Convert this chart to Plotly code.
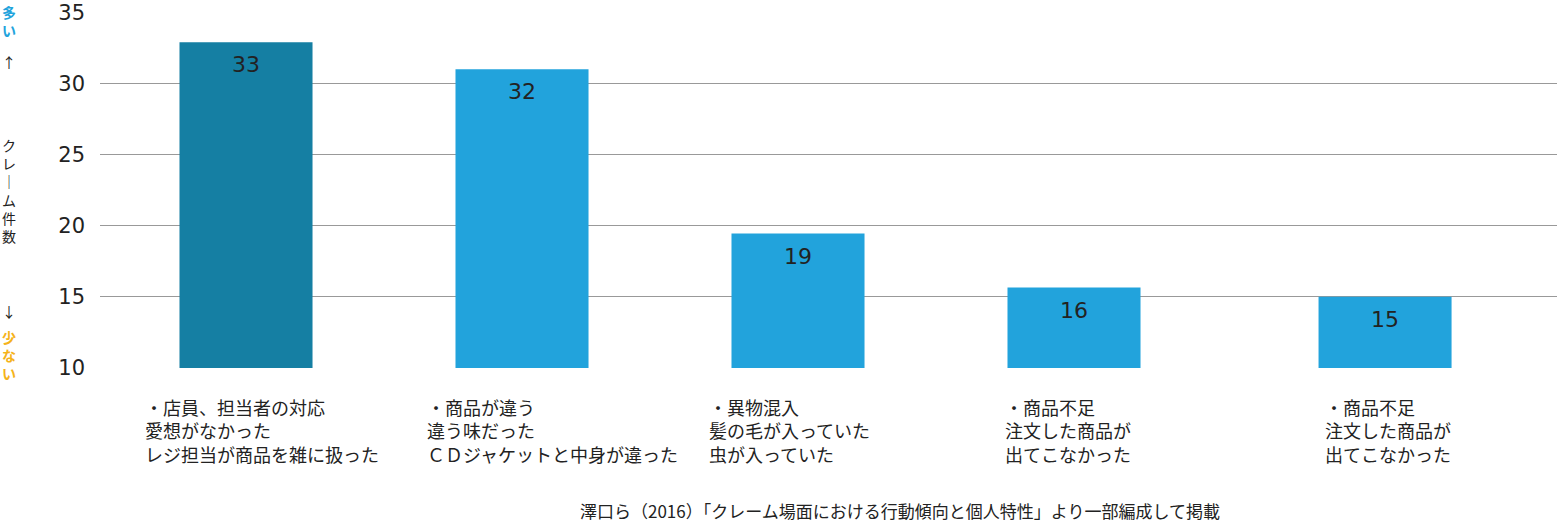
import plotly.graph_objects as go

# ---- data ----
categories = ["店員の対応", "商品が違う", "異物混入", "商品不足A", "商品不足B"]
bar_values = [32.9, 31.0, 19.45, 15.65, 15.0]
bar_labels = ["33", "32", "19", "16", "15"]
category_lines = [
    ["・店員、担当者の対応", "愛想がなかった", "レジ担当が商品を雑に扱った"],
    ["・商品が違う", "違う味だった", "ＣＤジャケットと中身が違った"],
    ["・異物混入", "髪の毛が入っていた", "虫が入っていた"],
    ["・商品不足", "注文した商品が", "出てこなかった"],
    ["・商品不足", "注文した商品が", "出てこなかった"],
]
bar_colors = ["#157fa3", "#22a3dc", "#22a3dc", "#22a3dc", "#22a3dc"]
y_ticks = [10, 15, 20, 25, 30, 35]
axis_top_text = "多い"
axis_mid_text = "クレ｜ム件数"
axis_bottom_text = "少ない"
source_text = "澤口ら（2016）「クレーム場面における行動傾向と個人特性」より一部編成して掲載"

# ---- layout helpers (positions, not data) ----
slot_pos = [0, 1, 2, 3, 4.127]
label_shift = [-103, -97, -91, -71, -62]

JP = "Noto Sans CJK JP"
NUM = "DejaVu Sans, sans-serif"
L, T, B = 100, 12, 155
W, H = 1557, 523
PW, PH = W - L, H - T - B


def px_x(px):
    return (px - L) / PW


def px_y(py):
    return (H - B - py) / PH


fig = go.Figure()
fig.add_trace(go.Bar(
    x=slot_pos, y=bar_values, width=0.482,
    marker=dict(color=bar_colors, line=dict(width=0)),
    hoverinfo="skip",
))

annotations = []
for xp, v, t in zip(slot_pos, bar_values, bar_labels):
    annotations.append(dict(x=xp, y=v, text=t, showarrow=False, xref="x", yref="y",
                            yanchor="top", yshift=-8,
                            font=dict(family=NUM, size=22, color="#222")))
for xp, lines, sh in zip(slot_pos, category_lines, label_shift):
    annotations.append(dict(x=xp, y=px_y(430), xref="x", yref="paper", text="<br>".join(lines),
                            showarrow=False, xanchor="left", yanchor="middle", align="left",
                            xshift=sh, font=dict(family=JP, size=18, color="#222")))


def vertical(text, center, color, bold):
    t = "<br>".join(text)
    if bold:
        t = "<b>%s</b>" % t
    return dict(x=px_x(9), y=px_y(center), xref="paper", yref="paper",
                text=t, showarrow=False, xanchor="center", yanchor="middle",
                font=dict(family=JP, size=14, color=color))


annotations += [
    vertical(axis_top_text, 21, "#22a3dc", True),
    vertical("↑", 62, "#222", False),
    vertical(axis_mid_text, 190, "#222", False),
    vertical("↓", 311, "#222", False),
    vertical(axis_bottom_text, 355, "#f5b31b", True),
]
annotations.append(dict(x=px_x(900), y=px_y(510), xref="paper", yref="paper", text=source_text,
                        showarrow=False, xanchor="center", yanchor="middle",
                        font=dict(family=JP, size=17, color="#222")))

fig.update_layout(
    width=W, height=H,
    margin=dict(l=L, r=0, t=T, b=B, autoexpand=False),
    plot_bgcolor="white", paper_bgcolor="white",
    showlegend=False,
    annotations=annotations,
    xaxis=dict(range=[-0.529, 4.75], showticklabels=False, showgrid=False,
               zeroline=False, showline=False, ticks="", automargin=False),
    yaxis=dict(range=[10, 35.02], tickvals=y_ticks, showgrid=True, gridcolor="#999",
               gridwidth=1, zeroline=False, showline=False, ticks="",
               ticklabelstandoff=14, automargin=False,
               tickfont=dict(family=NUM, size=21, color="#222")),
)

fig.write_html("out.html", config={"displayModeBar": False},
               post_script="document.body.style.margin='0';document.body.style.overflow='hidden';")
